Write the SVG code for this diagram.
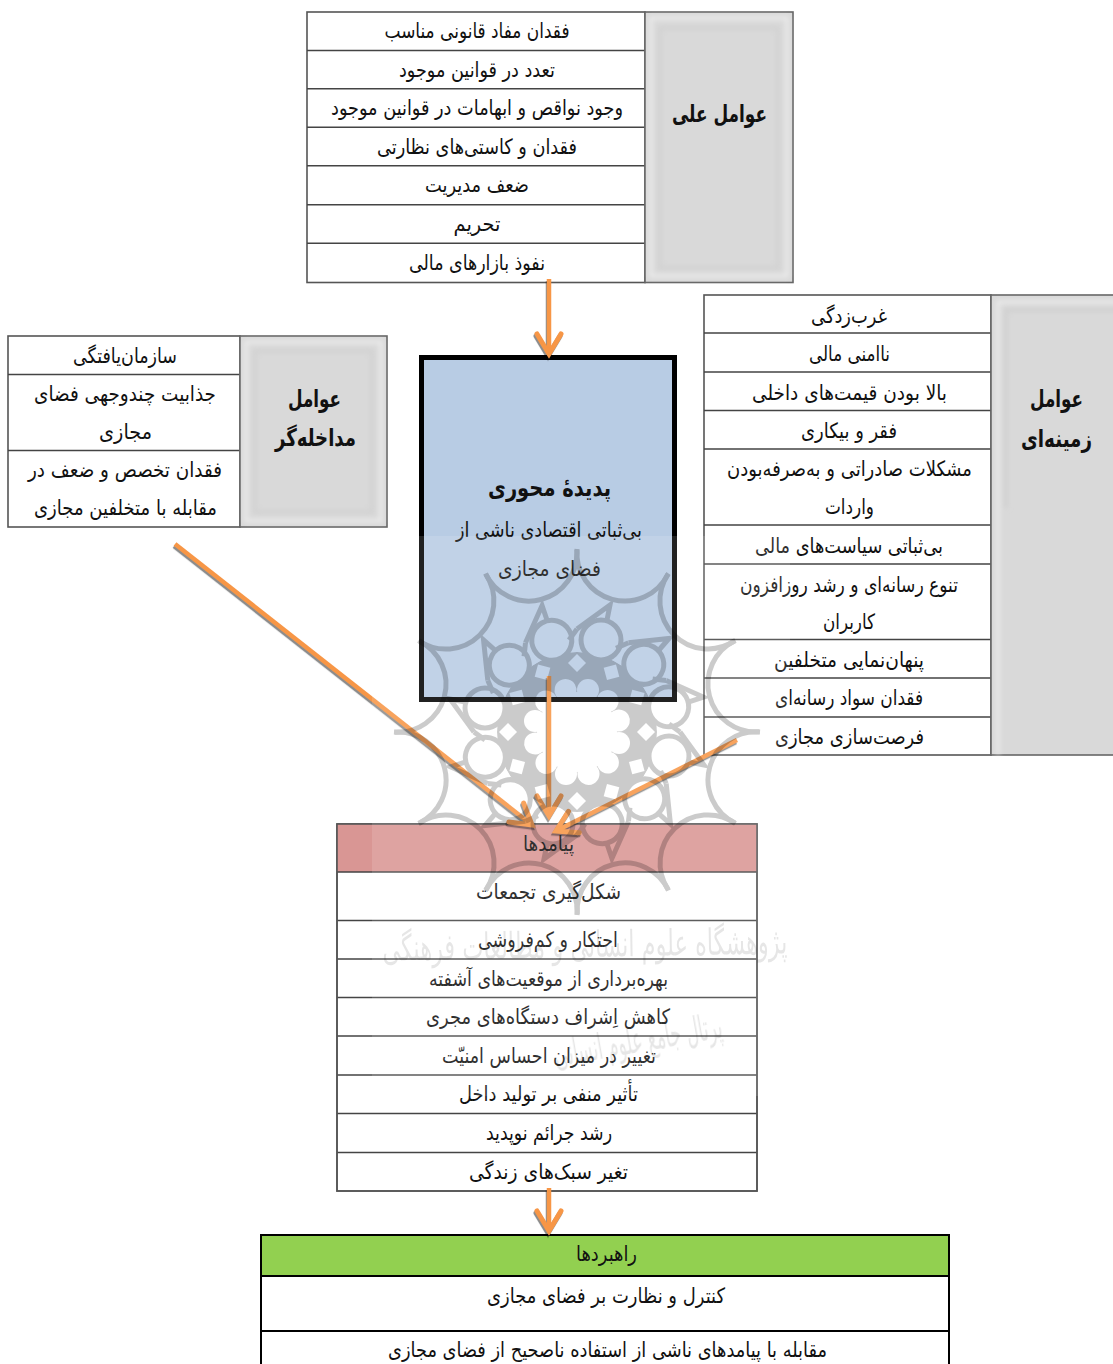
<svg xmlns="http://www.w3.org/2000/svg" xmlns:xlink="http://www.w3.org/1999/xlink" width="1113" height="1364" viewBox="0 0 1113 1364">
<style>
.t{font-family:"DejaVu Sans","Noto Sans",sans-serif;font-size:21px;text-anchor:middle;direction:rtl;fill:#111}
.b{font-weight:bold;font-size:24px}
.cell{fill:#fff;stroke:#555;stroke-width:1.6}
.rule{stroke:#444;stroke-width:1.5}
.panel{fill:#d9d9d9;stroke:#666;stroke-width:1.6}
.arrow{fill:none;stroke:#F79646;stroke-width:4.5;marker-end:url(#chev);filter:url(#sh)}
.bevel{fill:none;filter:url(#blur3)}
.ros{fill:none;stroke:#000;stroke-width:5}
.wm{font-family:"DejaVu Sans",sans-serif;font-size:36px;fill:#000;text-anchor:middle;direction:rtl}
</style>
<defs>
<filter id="sh" filterUnits="userSpaceOnUse" x="0" y="0" width="1113" height="1364" color-interpolation-filters="sRGB"><feDropShadow dx="-1" dy="2.2" stdDeviation="0.7" flood-color="#000" flood-opacity="0.45"/></filter>
<filter id="blur3"><feGaussianBlur stdDeviation="2.5"/></filter>
<filter id="blur1" filterUnits="userSpaceOnUse" x="0" y="0" width="1113" height="1364"><feGaussianBlur stdDeviation="0.7"/></filter>
<marker id="chev" markerUnits="userSpaceOnUse" markerWidth="34" markerHeight="34" viewBox="-28 -17 34 34" refX="0" refY="0" orient="auto" overflow="visible"><path d="M-20,-12 L0,0 L-20,12" fill="none" stroke="#F79646" stroke-width="5" stroke-linecap="round"/></marker>
<g id="sector">
<path class="ros" d="M0,-183 A48,48 0 0 0 91,-158"/>
<circle class="ros" cx="24" cy="-92" r="20"/>
<path class="ros" d="M0,-103 L33,-127 L30,-112"/>
<path class="ros" d="M0,-103 L-8,-92"/>
</g>
<g id="holes">
<circle cx="24" cy="-92" r="20" fill="#000"/>
<path d="M0,-60 L9,-69 L0,-78 L-9,-69 Z" fill="#000"/>
<circle cx="11" cy="-42" r="11" fill="#000"/>
</g>
<mask id="ring" maskUnits="userSpaceOnUse" x="-100" y="-100" width="200" height="200">
<circle r="80" fill="#fff"/>
<circle r="40" fill="#000"/>
<use xlink:href="#holes"/>
<use xlink:href="#holes" transform="rotate(30)"/>
<use xlink:href="#holes" transform="rotate(60)"/>
<use xlink:href="#holes" transform="rotate(90)"/>
<use xlink:href="#holes" transform="rotate(120)"/>
<use xlink:href="#holes" transform="rotate(150)"/>
<use xlink:href="#holes" transform="rotate(180)"/>
<use xlink:href="#holes" transform="rotate(210)"/>
<use xlink:href="#holes" transform="rotate(240)"/>
<use xlink:href="#holes" transform="rotate(270)"/>
<use xlink:href="#holes" transform="rotate(300)"/>
<use xlink:href="#holes" transform="rotate(330)"/>
</mask>
</defs>
<rect width="1113" height="1364" fill="#fff"/>

<g id="node-causal">
<rect class="cell" x="307" y="12" width="338" height="270.5"/>
<path class="rule" d="M307,50.500H645M307,88.700H645M307,127.300H645M307,165.700H645M307,204.700H645M307,243.300H645"/>
<rect class="panel" x="645" y="12" width="148" height="270.500"/>
<g class="bevel"><rect x="651" y="18" width="136" height="258" stroke="#eeeeee" stroke-width="3"/><rect x="660" y="28" width="118" height="240" stroke="#d2d2d2" stroke-width="4"/></g>
<text class="t" x="477" y="38" textLength="185" lengthAdjust="spacingAndGlyphs">فقدان مفاد قانونی مناسب</text>
<text class="t" x="477" y="77" textLength="156" lengthAdjust="spacingAndGlyphs">تعدد در قوانین موجود</text>
<text class="t" x="477" y="115" textLength="292" lengthAdjust="spacingAndGlyphs">وجود نواقص و ابهامات در قوانین موجود</text>
<text class="t" x="477" y="154" textLength="200" lengthAdjust="spacingAndGlyphs">فقدان و کاستی‌های نظارتی</text>
<text class="t" x="477" y="192" textLength="104" lengthAdjust="spacingAndGlyphs">ضعف مدیریت</text>
<text class="t" x="477" y="231" textLength="47" lengthAdjust="spacingAndGlyphs">تحریم</text>
<text class="t" x="477" y="270" textLength="136" lengthAdjust="spacingAndGlyphs">نفوذ بازارهای مالی</text>
<text class="t b" x="719.500" y="122" textLength="95" lengthAdjust="spacingAndGlyphs">عوامل علی</text>
</g>

<g id="node-context">
<rect class="cell" x="704" y="295" width="287" height="460"/>
<path class="rule" d="M704,333H991M704,372H991M704,410.500H991M704,449H991M704,525H991M704,564H991M704,639.500H991M704,678H991M704,717H991"/>
<rect class="panel" x="991" y="295" width="126" height="460"/>
<g class="bevel"><path d="M998,755V302H1120" stroke="#eeeeee" stroke-width="3"/><path d="M1006,508V310H1120" stroke="#d0d0d0" stroke-width="4"/></g>
<text class="t" x="849" y="323" textLength="76" lengthAdjust="spacingAndGlyphs">غرب‌زدگی</text>
<text class="t" x="849.500" y="361" textLength="81" lengthAdjust="spacingAndGlyphs">ناامنی مالی</text>
<text class="t" x="849.500" y="400" textLength="195" lengthAdjust="spacingAndGlyphs">بالا بودن قیمت‌های داخلی</text>
<text class="t" x="849" y="438" textLength="96" lengthAdjust="spacingAndGlyphs">فقر و بیکاری</text>
<text class="t" x="849.500" y="476" textLength="245" lengthAdjust="spacingAndGlyphs">مشکلات صادراتی و به‌صرفه‌بودن</text>
<text class="t" x="849.500" y="514" textLength="49" lengthAdjust="spacingAndGlyphs">واردات</text>
<text class="t" x="849" y="553" textLength="188" lengthAdjust="spacingAndGlyphs">بی‌ثباتی سیاست‌های مالی</text>
<text class="t" x="849" y="592" textLength="218" lengthAdjust="spacingAndGlyphs">تنوع رسانه‌ای و رشد روزافزون</text>
<text class="t" x="849" y="629" textLength="52" lengthAdjust="spacingAndGlyphs">کاربران</text>
<text class="t" x="849" y="667" textLength="150" lengthAdjust="spacingAndGlyphs">پنهان‌نمایی متخلفین</text>
<text class="t" x="849" y="705" textLength="148" lengthAdjust="spacingAndGlyphs">فقدان سواد رسانه‌ای</text>
<text class="t" x="849.500" y="744" textLength="149" lengthAdjust="spacingAndGlyphs">فرصت‌سازی مجازی</text>
<text class="t b" x="1056.500" y="407" textLength="53" lengthAdjust="spacingAndGlyphs">عوامل</text>
<text class="t b" x="1056.500" y="447" textLength="71" lengthAdjust="spacingAndGlyphs">زمینه‌ای</text>
</g>

<g id="node-intervening">
<rect class="cell" x="8" y="336" width="232" height="191"/>
<path class="rule" d="M8,374.500H240M8,450.500H240"/>
<rect class="panel" x="240" y="336" width="147" height="191"/>
<g class="bevel"><rect x="246" y="342" width="135" height="179" stroke="#eeeeee" stroke-width="3"/><rect x="255" y="351" width="117" height="161" stroke="#d2d2d2" stroke-width="4"/></g>
<text class="t" x="125" y="363" textLength="104" lengthAdjust="spacingAndGlyphs">سازمان‌یافتگی</text>
<text class="t" x="125" y="401" textLength="182" lengthAdjust="spacingAndGlyphs">جذابیت چندوجهی فضای</text>
<text class="t" x="125.500" y="439" textLength="53" lengthAdjust="spacingAndGlyphs">مجازی</text>
<text class="t" x="125" y="477" textLength="194" lengthAdjust="spacingAndGlyphs">فقدان تخصص و ضعف در</text>
<text class="t" x="125.500" y="515" textLength="183" lengthAdjust="spacingAndGlyphs">مقابله با متخلفین مجازی</text>
<text class="t b" x="314.500" y="407" textLength="53" lengthAdjust="spacingAndGlyphs">عوامل</text>
<text class="t b" x="315.500" y="446" textLength="81" lengthAdjust="spacingAndGlyphs">مداخله‌گر</text>
</g>

<g id="node-central">
<rect x="421.500" y="357.500" width="253" height="342" fill="#B8CCE4" stroke="#000" stroke-width="5"/>
<text class="t b" x="549.500" y="496" textLength="123" lengthAdjust="spacingAndGlyphs">پدیدهٔ محوری</text>
<text class="t" x="549" y="537" textLength="186" lengthAdjust="spacingAndGlyphs">بی‌ثباتی اقتصادی ناشی از</text>
<text class="t" x="549.500" y="576" textLength="103" lengthAdjust="spacingAndGlyphs">فضای مجازی</text>
</g>

<g id="node-consequences">
<rect class="cell" x="337" y="824" width="420" height="367"/>
<rect x="337" y="824" width="420" height="48" fill="#D99694"/>
<path class="rule" d="M337,872H757M337,920.500H757M337,959H757M337,997.500H757M337,1036H757M337,1075H757M337,1113.500H757M337,1152.500H757"/>
<rect x="337" y="824" width="420" height="367" fill="none" stroke="#555" stroke-width="1.600"/>
<text class="t" x="548.500" y="851" textLength="51" lengthAdjust="spacingAndGlyphs">پیامدها</text>
<text class="t" x="548.500" y="899" textLength="145" lengthAdjust="spacingAndGlyphs">شکل‌گیری تجمعات</text>
<text class="t" x="548" y="947" textLength="140" lengthAdjust="spacingAndGlyphs">احتکار و کم‌فروشی</text>
<text class="t" x="548.500" y="986" textLength="239" lengthAdjust="spacingAndGlyphs">بهره‌برداری از موقعیت‌های آشفته</text>
<text class="t" x="548" y="1024" textLength="244" lengthAdjust="spacingAndGlyphs">کاهش اِشراف دستگاه‌های مجری</text>
<text class="t" x="549" y="1063" textLength="214" lengthAdjust="spacingAndGlyphs">تغییر در میزان احساس امنیّت</text>
<text class="t" x="548.500" y="1101" textLength="179" lengthAdjust="spacingAndGlyphs">تأثیر منفی بر تولید داخل</text>
<text class="t" x="549" y="1140" textLength="126" lengthAdjust="spacingAndGlyphs">رشد جرائم نوپدید</text>
<text class="t" x="548.500" y="1179" textLength="159" lengthAdjust="spacingAndGlyphs">تغیر سبک‌های زندگی</text>
</g>

<g id="node-strategies">
<rect x="261" y="1235" width="688" height="140" fill="#fff" stroke="#000" stroke-width="2"/>
<rect x="261" y="1235" width="688" height="41" fill="#92D050" stroke="#000" stroke-width="2"/>
<path d="M261,1331H949" stroke="#000" stroke-width="2"/>
<text class="t" x="606.500" y="1261" textLength="61" lengthAdjust="spacingAndGlyphs">راهبردها</text>
<text class="t" x="606" y="1303" textLength="238" lengthAdjust="spacingAndGlyphs">کنترل و نظارت بر فضای مجازی</text>
<text class="t" x="607.500" y="1357" textLength="439" lengthAdjust="spacingAndGlyphs">مقابله با پیامدهای ناشی از استفاده ناصحیح از فضای مجازی</text>
</g>

<g id="connectors">
<path class="arrow" d="M549,279V354"/>
<path class="arrow" d="M549,676V816"/>
<path class="arrow" d="M175,544L532,825"/>
<path class="arrow" d="M737,740L556,831"/>
<path class="arrow" d="M549,1188V1231"/>
</g>

<g id="watermark">
<rect x="372" y="536" width="418" height="560" fill="#fff" opacity="0.13"/>
<g opacity="0.2" filter="url(#blur1)">
<g transform="translate(577 732)">
<circle r="80" fill="#000" mask="url(#ring)"/>
<use xlink:href="#sector"/>
<use xlink:href="#sector" transform="rotate(30)"/>
<use xlink:href="#sector" transform="rotate(60)"/>
<use xlink:href="#sector" transform="rotate(90)"/>
<use xlink:href="#sector" transform="rotate(120)"/>
<use xlink:href="#sector" transform="rotate(150)"/>
<use xlink:href="#sector" transform="rotate(180)"/>
<use xlink:href="#sector" transform="rotate(210)"/>
<use xlink:href="#sector" transform="rotate(240)"/>
<use xlink:href="#sector" transform="rotate(270)"/>
<use xlink:href="#sector" transform="rotate(300)"/>
<use xlink:href="#sector" transform="rotate(330)"/>
</g>
</g>
<g opacity="0.1" filter="url(#blur1)">
<text class="wm" transform="translate(585 957) rotate(-1)" textLength="405" lengthAdjust="spacingAndGlyphs">پژوهشگاه علوم انسانی و مطالعات فرهنگی</text>
<text class="wm" transform="translate(640 1052) rotate(-10)" textLength="170" lengthAdjust="spacingAndGlyphs">پرتال جامع علوم انسانی</text>
</g>
</g>
</svg>
